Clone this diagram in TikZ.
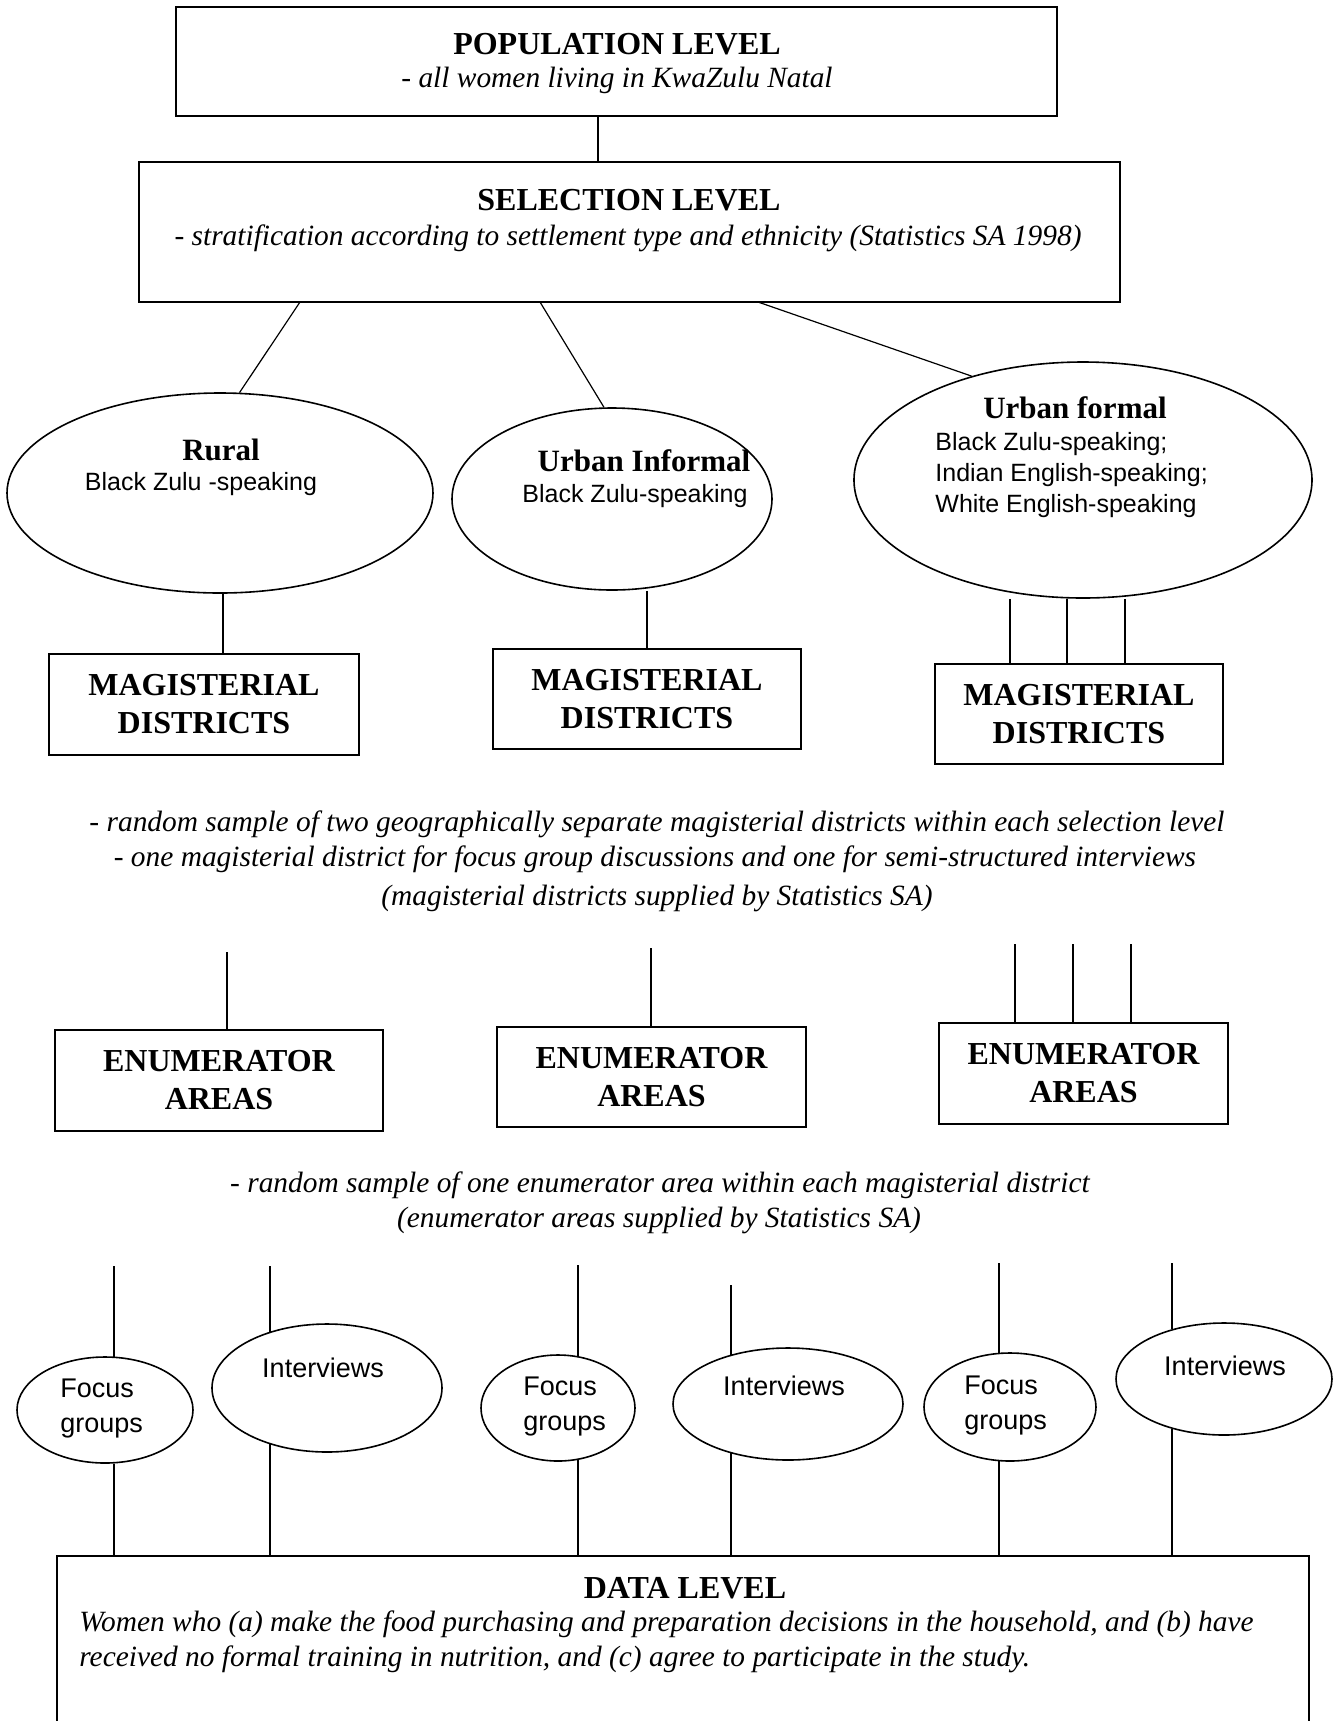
\documentclass[tikz,border=0pt]{standalone}
\usepackage{fontspec}
\setmainfont{Liberation Serif}
\setsansfont{Liberation Sans}
\usetikzlibrary{shapes.geometric}
\begin{document}
\begin{tikzpicture}[x=0.5pt,y=-0.5pt,
  box/.style={draw,line width=1pt,rectangle,inner sep=0pt},
  oval/.style={draw,line width=0.8pt,ellipse,inner sep=0pt},
  conn/.style={line width=0.6pt},
  ttl/.style={inner sep=0pt,font=\fontsize{16}{19}\selectfont\bfseries,align=center},
  etl/.style={inner sep=0pt,font=\fontsize{15.5}{18}\selectfont\bfseries,align=center},
  itl/.style={inner sep=0pt,font=\fontsize{14.7}{17.5}\selectfont\itshape,align=center},
  stx/.style={inner sep=0pt,font=\sffamily\fontsize{12.5}{15.5}\selectfont,align=left},
  btx/.style={inner sep=0pt,font=\sffamily\fontsize{13.5}{17.5}\selectfont,align=left}]
\clip (0,0) rectangle (1334,1721);
\fill[white] (0,0) rectangle (1334,1721);

% population / selection
\node[box,minimum width=440.5pt,minimum height=54.5pt] (pop) at (616,61.5) {};
\node[ttl] (popT) at (617,44) {POPULATION LEVEL};
\node[itl] (popS) at (617,80) {- all women living in KwaZulu Natal};
\node[box,minimum width=490.5pt,minimum height=70pt] (sel) at (629.5,232) {};
\node[ttl] (selT) at (629,200) {SELECTION LEVEL};
\node[itl] (selS) at (628,238) {- stratification according to settlement type and ethnicity (Statistics SA 1998)};
\coordinate (cPop) at (598,0);
\draw[conn] (pop.south -| cPop) -- (sel.north -| cPop);

% settlement ellipses
\node[oval,minimum width=213pt,minimum height=100pt] (rural) at (220,493) {};
\node[etl] (ruralT) at (221,450) {Rural};
\node[stx] (ruralS) at (201,484) {Black Zulu -speaking};
\node[oval,minimum width=160pt,minimum height=91pt] (ui) at (612,499) {};
\node[etl] (uiT) at (644,461) {Urban Informal};
\node[stx] (uiS) at (635,496) {Black Zulu-speaking};
\node[oval,minimum width=229pt,minimum height=118pt] (uf) at (1083,480) {};
\node[etl] (ufT) at (1075,408) {Urban formal};
\node[stx,anchor=west] (ufS) at (935,475) {Black Zulu-speaking;\\Indian English-speaking;\\White English-speaking};

\coordinate (s1) at (300,302);
\coordinate (s2) at (540,302);
\coordinate (s3) at (758,302);
\draw[conn] (s1) -- (rural.79);
\draw[conn] (s2) -- (ui.95);
\draw[conn] (s3) -- (uf.137);

% magisterial districts
\node[box,ttl,minimum width=155pt,minimum height=50.5pt] (mag1) at (204,704.5) {MAGISTERIAL\\DISTRICTS};
\node[box,ttl,minimum width=154pt,minimum height=50pt] (mag2) at (647,699) {MAGISTERIAL\\DISTRICTS};
\node[box,ttl,minimum width=144pt,minimum height=50pt] (mag3) at (1079,714) {MAGISTERIAL\\DISTRICTS};
\coordinate (m1) at (223,0);
\coordinate (m2) at (647,0);
\coordinate (m3a) at (1010,0);
\coordinate (m3b) at (1067,0);
\coordinate (m3c) at (1125,0);
\draw[conn] (rural.south -| m1) -- (mag1.north -| m1);
\draw[conn] (ui.south -| m2) -- (mag2.north -| m2);
\draw[conn] (uf.south -| m3a) -- (mag3.north -| m3a);
\draw[conn] (uf.south -| m3b) -- (mag3.north -| m3b);
\draw[conn] (uf.south -| m3c) -- (mag3.north -| m3c);

\node[itl] (note1a) at (657,824) {- random sample of two geographically separate magisterial districts within each selection level};
\node[itl] (note1b) at (655,859) {- one magisterial district for focus group discussions and one for semi-structured interviews};
\node[itl] (note1c) at (657,898) {(magisterial districts supplied by Statistics SA)};

% enumerator areas
\node[box,ttl,minimum width=164pt,minimum height=50.5pt] (enum1) at (219,1080.5) {ENUMERATOR\\AREAS};
\node[box,ttl,minimum width=154.5pt,minimum height=50pt] (enum2) at (651.5,1077) {ENUMERATOR\\AREAS};
\node[box,ttl,minimum width=144.5pt,minimum height=50.5pt] (enum3) at (1083.5,1073.5) {ENUMERATOR\\AREAS};
\coordinate (e1) at (227,952);
\coordinate (e2) at (651,948);
\coordinate (e3a) at (1015,944);
\coordinate (e3b) at (1073,944);
\coordinate (e3c) at (1131,944);
\draw[conn] (e1) -- (e1 |- enum1.north);
\draw[conn] (e2) -- (e2 |- enum2.north);
\draw[conn] (e3a) -- (e3a |- enum3.north);
\draw[conn] (e3b) -- (e3b |- enum3.north);
\draw[conn] (e3c) -- (e3c |- enum3.north);

\node[itl] (note2a) at (660,1185) {- random sample of one enumerator area within each magisterial district};
\node[itl] (note2b) at (659,1220) {(enumerator areas supplied by Statistics SA)};

% data collection ovals
\node[oval,minimum width=88pt,minimum height=53pt] (f1) at (105,1410) {};
\node[oval,minimum width=115pt,minimum height=64pt] (i1) at (327,1388) {};
\node[oval,minimum width=77pt,minimum height=53pt] (f2) at (558,1408) {};
\node[oval,minimum width=115pt,minimum height=56pt] (i2) at (788,1404) {};
\node[oval,minimum width=86pt,minimum height=54pt] (f3) at (1010,1407) {};
\node[oval,minimum width=108pt,minimum height=56pt] (i3) at (1224,1379) {};
\node[btx,anchor=west] (f1T) at (60,1408) {Focus\\groups};
\node[btx,anchor=west] (f2T) at (523,1406) {Focus\\groups};
\node[btx,anchor=west] (f3T) at (964,1405) {Focus\\groups};
\node[btx] (i1T) at (323,1368) {Interviews};
\node[btx] (i2T) at (784,1386) {Interviews};
\node[btx] (i3T) at (1225,1366) {Interviews};

% data level
\node[box,minimum width=626pt,minimum height=92pt] (data) at (683,1648) {};
\node[ttl] (dataT) at (685,1588) {DATA LEVEL};
\node[itl,align=left,anchor=west] (dataS) at (79,1642) {Women who (a) make the food purchasing and preparation decisions in the household, and (b) have\\[0pt]received no formal training in nutrition, and (c) agree to participate in the study.};

\coordinate (t1) at (114,1266);
\coordinate (t2) at (270,1266);
\coordinate (t3) at (578,1265);
\coordinate (t4) at (731,1285);
\coordinate (t5) at (999,1263);
\coordinate (t6) at (1172,1263);
\draw[conn] (t1) -- (t1 |- f1.80);
\draw[conn] (t2) -- (t2 |- i1.136);
\draw[conn] (t3) -- (t3 |- f2.69);
\draw[conn] (t4) -- (t4 |- i2.140);
\draw[conn] (t5) -- (t5 |- f3.102);
\draw[conn] (t6) -- (t6 |- i3.137);
\draw[conn] (t1 |- f1.280) -- (t1 |- data.north);
\draw[conn] (t2 |- i1.224) -- (t2 |- data.north);
\draw[conn] (t3 |- f2.291) -- (t3 |- data.north);
\draw[conn] (t4 |- i2.220) -- (t4 |- data.north);
\draw[conn] (t5 |- f3.258) -- (t5 |- data.north);
\draw[conn] (t6 |- i3.223) -- (t6 |- data.north);
\end{tikzpicture}
\end{document}
